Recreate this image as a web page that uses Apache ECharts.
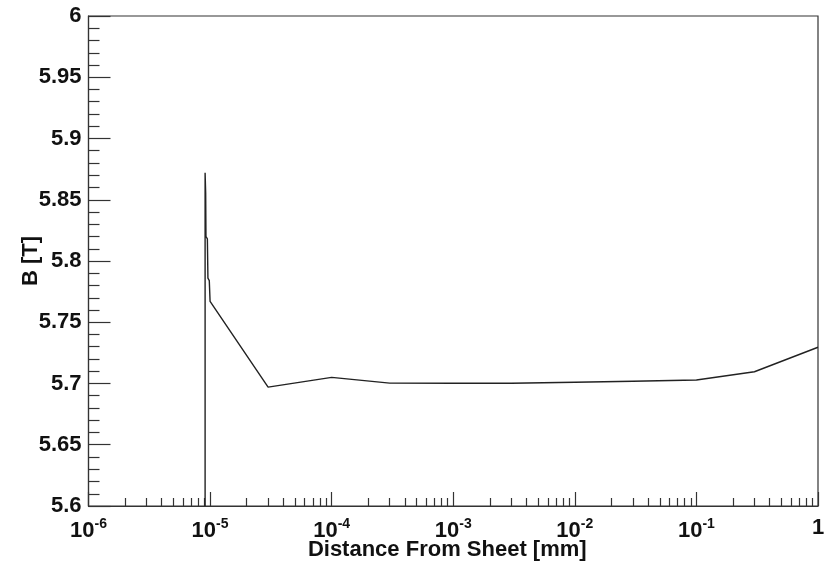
<!DOCTYPE html>
<html>
<head>
<meta charset="utf-8">
<title>B vs distance from sheet</title>
<script src="https://cdn.jsdelivr.net/npm/echarts@6/dist/echarts.min.js"></script>
<style>
  html, body { margin: 0; padding: 0; background: #fff; }
  #chart { width: 830px; height: 562px; }
</style>
</head>
<body>
<div id="chart"></div>
<script>
// Field magnitude B [T] versus distance from the sheet [mm]
const distance = [9.1e-6, 9.1e-6, 9.2e-6, 9.25e-6, 9.5e-6, 9.6e-6, 9.85e-6, 1e-5,
                  3e-5, 1e-4, 3e-4, 1e-3, 3e-3, 1e-2, 3e-2, 1e-1, 3e-1, 1];
const field = [5.6, 5.872, 5.855, 5.82, 5.818, 5.786, 5.784, 5.767,
               5.697, 5.705, 5.7003, 5.7002, 5.7002, 5.7010, 5.7018, 5.7029, 5.7096, 5.7296];

// Axis ranges and tick values
const xMin = 1e-6, xMax = 1;
const yMin = 5.6, yMax = 6, yStep = 0.05;
const xMinorTicks = [];
for (let e = -6; e < 0; e++) {
  for (let m = 2; m <= 9; m++) xMinorTicks.push(m * Math.pow(10, e));
}

const FONT = '"Liberation Sans", Arial, Helvetica, sans-serif';
const INK = '#111';
const FRAME = '#333';

function powerLabel(v) {
  const e = Math.round(Math.log10(v));
  if (e === 0) return '{b|1}';
  return '{b|10}{s|' + e + '}';
}

const chart = echarts.init(document.getElementById('chart'), null, { renderer: 'canvas' });

chart.setOption({
  animation: false,
  backgroundColor: '#fff',
  grid: {
    left: 88.5, right: 12, top: 16, bottom: 56,
    show: true, borderColor: FRAME, borderWidth: 1.2, backgroundColor: 'transparent',
    containLabel: false,
    outerBoundsMode: 'none'
  },
  xAxis: [
    {
      type: 'log', logBase: 10, min: xMin, max: xMax, position: 'bottom',
      axisLine: { show: true, lineStyle: { color: FRAME, width: 1.2 } },
      axisTick: { show: true, inside: true, length: 14, lineStyle: { color: FRAME, width: 1.2 } },
      splitLine: { show: false },
      minorTick: { show: false },
      axisLabel: {
        margin: 11,
        formatter: powerLabel,
        rich: {
          b: { fontFamily: FONT, fontWeight: 'bold', fontSize: 22, color: INK },
          s: { fontFamily: FONT, fontWeight: 'bold', fontSize: 14, color: INK, verticalAlign: 'top', padding: [0, 0, 14, 0] }
        }
      },
      name: 'Distance From Sheet [mm]',
      nameLocation: 'middle',
      nameGap: 33,
      nameMoveOverlap: false,
      nameTextStyle: { fontFamily: FONT, fontWeight: 'bold', fontSize: 22, color: INK, padding: [0, 12, 0, 0] }
    },
    {
      // decade subdivisions (2..9) drawn as short inward ticks
      type: 'log', logBase: 10, min: xMin, max: xMax, position: 'bottom',
      axisLine: { show: false },
      axisTick: { show: true, inside: true, length: 8, customValues: xMinorTicks, lineStyle: { color: FRAME, width: 1.2 } },
      axisLabel: { show: false },
      splitLine: { show: false }
    }
  ],
  yAxis: {
    type: 'value', min: yMin, max: yMax, interval: yStep,
    axisLine: { show: true, lineStyle: { color: FRAME, width: 1.2 } },
    axisTick: { show: true, inside: true, length: 22, lineStyle: { color: FRAME, width: 1.2 } },
    minorTick: { show: true, splitNumber: 5, length: 11, lineStyle: { color: FRAME, width: 1.2 } },
    splitLine: { show: false },
    axisLabel: { margin: 7, fontFamily: FONT, fontWeight: 'bold', fontSize: 22, color: INK },
    name: 'B [T]',
    nameLocation: 'middle',
    nameGap: 47,
    nameMoveOverlap: false,
    nameTextStyle: { fontFamily: FONT, fontWeight: 'bold', fontSize: 22, color: INK }
  },
  series: [{
    type: 'line',
    xAxisIndex: 0,
    data: distance.map((d, i) => [d, field[i]]),
    showSymbol: false,
    clip: true,
    lineStyle: { color: '#222', width: 1.4 }
  }]
});
</script>
</body>
</html>
